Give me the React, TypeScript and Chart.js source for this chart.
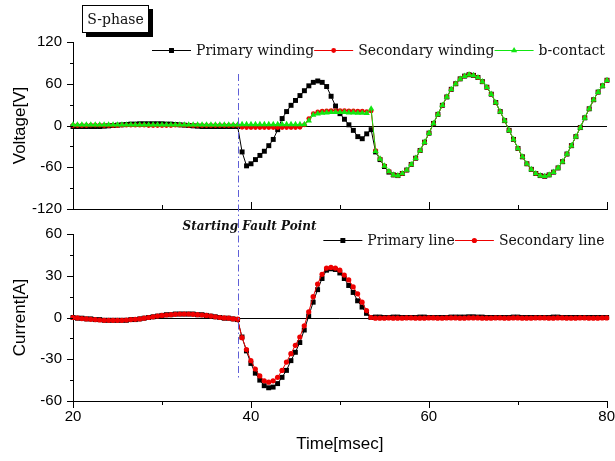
import React, { useEffect, useRef } from 'react';
import { Chart, registerables } from 'chart.js';

Chart.register(...registerables);

// ---------------- data ----------------
const timeMs = [
  20, 20.5, 21, 21.5, 22, 22.5, 23, 23.5, 24, 24.5, 25, 25.5, 26, 26.5, 27, 27.5, 28, 28.5, 29, 29.5,
  30, 30.5, 31, 31.5, 32, 32.5, 33, 33.5, 34, 34.5, 35, 35.5, 36, 36.5, 37, 37.5, 38, 38.5, 39, 39.5,
  40, 40.5, 41, 41.5, 42, 42.5, 43, 43.5, 44, 44.5, 45, 45.5, 46, 46.5, 47, 47.5, 48, 48.5, 49, 49.5,
  50, 50.5, 51, 51.5, 52, 52.5, 53, 53.5, 54, 54.5, 55, 55.5, 56, 56.5, 57, 57.5, 58, 58.5, 59, 59.5,
  60, 60.5, 61, 61.5, 62, 62.5, 63, 63.5, 64, 64.5, 65, 65.5, 66, 66.5, 67, 67.5, 68, 68.5, 69, 69.5,
  70, 70.5, 71, 71.5, 72, 72.5, 73, 73.5, 74, 74.5, 75, 75.5, 76, 76.5, 77, 77.5, 78, 78.5, 79, 79.5,
  80,
];

const voltagePrimary = [
  -1.5, -1.5, -1.5, -1.5, -1.5, -1.5, -1.5, -1, -0.5, 0,
  0.5, 1, 1.5, 2, 2, 2.5, 2.5, 2.5, 2.5, 2.5,
  2.5, 2, 2, 1.5, 1, 0.5, 0, -0.5, -1, -1.5,
  -1.5, -1.5, -1.5, -1.5, -1.5, -1.5, -1.5, -1.5,
  -38, -58, -55, -49, -43, -37, -29, -20, -6, 10,
  20, 29, 36, 43, 50, 57, 62, 64, 62, 56,
  42, 28, 17, 9, 1, -7, -16, -19, -12, -6,
  -38, -49, -59, -67, -71, -72, -69, -64, -56, -47,
  -36, -24, -11, 3, 16, 29, 41, 52, 60, 67,
  71, 73, 72, 69, 63, 55, 45, 33, 20, 7,
  -7, -20, -33, -45, -55, -63, -69, -72, -73, -71,
  -67, -61, -52, -41, -29, -16, -3, 11, 24, 37,
  48, 57, 65,
];

const voltageSecondary = [
  0, 0, 0, 0, 0.5, 0.5, 0.5, 0, 0, 0,
  0, 0.5, 0.5, 0.5, 0.5, 0.5, 0.5, 0, 0, 0,
  0, 0, 0, 0.5, 0.5, 0.5, 0, 0, 0, 0,
  0, 0, 0, 0, 0, 0, 0, 0,
  -2.5, -3, -3, -3, -3, -3, -3, -3, -3, -3, -3, -3, -3, -2.5,
  1, 10, 17, 19.5, 20.5, 21, 21.5, 21.5, 21.5, 21.5, 21, 21, 20.5, 20.5, 20, 21,
  -36, -48, -58, -66, -71, -72, -69, -64, -56, -47,
  -36, -24, -11, 3, 16, 29, 41, 52, 60, 67,
  71, 73, 72, 69, 63, 55, 45, 33, 20, 7,
  -7, -20, -33, -45, -55, -63, -69, -72, -73, -71,
  -67, -61, -52, -41, -29, -16, -3, 11, 24, 37,
  48, 57, 65,
];

const voltageBContact = [
  1, 1, 1, 1, 1, 1, 1, 1, 1, 1,
  1, 1, 1, 1, 1, 1, 1, 1, 1, 1,
  1, 1, 1, 1, 1, 1, 1, 1, 1, 1,
  1, 1, 1, 1, 1, 1, 1, 1,
  1.5, 1.5, 1.5, 1.5, 1.5, 1.5, 1.5, 1.5, 1.5, 1.5, 1.5, 1.5, 1.5, 1.5,
  1.5, 7, 15, 17, 18, 18.5, 19, 19, 19, 19, 18.5, 18.5, 18, 18, 17.5, 24,
  -37, -48, -58, -66, -71, -72, -69, -64, -56, -47,
  -36, -24, -11, 3, 16, 29, 41, 52, 60, 67,
  71, 73, 72, 69, 63, 55, 45, 33, 20, 7,
  -7, -20, -33, -45, -55, -63, -69, -72, -73, -71,
  -67, -61, -52, -41, -29, -16, -3, 11, 24, 37,
  48, 57, 65,
];

const currentPrimary = [
  0, -0.5, -0.5, -1, -1, -1.5, -1.5, -2, -2, -2,
  -2, -2, -2, -1.5, -1.5, -1, -0.5, 0, 0.5, 1,
  1.5, 2, 2, 2.5, 2.5, 2.5, 2.5, 2.5, 2, 2,
  1.5, 1, 0.5, 0, -0.5, -0.5, -1, -1.5,
  -14, -24, -33, -40, -45, -49, -50.5, -50, -47.5, -43,
  -38, -31, -25, -18, -9, 1, 11, 20, 28, 34,
  35, 34.5, 32, 28, 23, 18, 12, 7.5, 3, 0,
  0.3, 0.3, 0, 0, 0.3, 0.3, 0, 0, 0, 0,
  0.3, 0.3, 0, 0, 0, 0, 0, 0.3, 0.3, 0.3,
  0.3, 0.5, 0.5, 0.3, 0.3, 0, 0, 0, 0, 0,
  0, 0.3, 0.3, 0, 0, 0, 0, 0, 0, 0,
  0.3, 0.3, 0, 0, 0, 0, 0, 0, 0, 0,
  0, 0, 0,
];

const currentSecondary = [
  0, -0.3, -0.8, -1, -1.3, -1.5, -1.8, -2, -2, -2,
  -2, -2, -1.8, -1.5, -1.3, -1, -0.5, 0, 0.5, 1,
  1.5, 1.8, 2, 2.3, 2.5, 2.5, 2.5, 2.3, 2, 1.8,
  1.5, 1, 0.5, 0, -0.3, -0.5, -1, -1.2,
  -14.5, -23, -31, -37, -42, -45.5, -46.5, -45.5, -43, -38,
  -32, -26, -20, -14, -6, 4, 15, 24, 31, 35.5,
  36, 35.5, 34, 30.5, 27, 22, 17, 11, 5, 0,
  -0.5, -0.5, -0.5, -0.3, -0.5, -0.5, -0.5, -0.3, -0.3, -0.5,
  -0.5, -0.5, -0.3, -0.3, -0.5, -0.5, -0.3, -0.3, -0.3, -0.5,
  -0.5, -0.3, -0.3, -0.3, -0.5, -0.5, -0.5, -0.3, -0.3, -0.5,
  -0.5, -0.3, -0.3, -0.5, -0.5, -0.5, -0.3, -0.3, -0.3, -0.5,
  -0.5, -0.3, -0.3, -0.5, -0.5, -0.5, -0.3, -0.3, -0.5, -0.5,
  -0.5, -0.3, -0.3,
];

const faultTime = 38.5;
const phaseTitle = 'S-phase';
const faultLabel = 'Starting Fault Point';

// ---------------- styling ----------------
const SANS = '"Liberation Sans", Arial, sans-serif';
const SERIF = '"DejaVu Serif", serif';
const BLACK = '#000000';
const RED = '#ee0000';
const GREEN = '#11e611';
const FAULT = 'rgb(95,95,215)';

const pts = (arr: number[]) => timeMs.map((t, i) => ({ x: t, y: arr[i] }));

function drawMarker(ctx: CanvasRenderingContext2D, style: string, x: number, y: number, r: number, color: string) {
  ctx.fillStyle = color;
  ctx.beginPath();
  if (style === 'rect') {
    const s = r * Math.SQRT1_2;
    ctx.rect(x - s, y - s, 2 * s, 2 * s);
  } else if (style === 'triangle') {
    let rad = 0;
    ctx.moveTo(x + Math.sin(rad) * r, y - Math.cos(rad) * r);
    rad += (2 * Math.PI) / 3;
    ctx.lineTo(x + Math.sin(rad) * r, y - Math.cos(rad) * r);
    rad += (2 * Math.PI) / 3;
    ctx.lineTo(x + Math.sin(rad) * r, y - Math.cos(rad) * r);
    ctx.closePath();
  } else {
    ctx.arc(x, y, r, 0, Math.PI * 2);
  }
  ctx.fill();
}

function hLine(ctx: CanvasRenderingContext2D, x1: number, y: number, x2: number) {
  const py = Math.round(y) + 0.5;
  ctx.beginPath();
  ctx.moveTo(x1, py);
  ctx.lineTo(x2, py);
  ctx.stroke();
}
function vLine(ctx: CanvasRenderingContext2D, x: number, y1: number, y2: number) {
  const px = Math.round(x) + 0.5;
  ctx.beginPath();
  ctx.moveTo(px, y1);
  ctx.lineTo(px, y2);
  ctx.stroke();
}

type DecorCfg = {
  inwardX: boolean;
  legendDy: number;
  faultFrom: (c: any) => number;
  faultTo: (c: any) => number;
  extra?: (c: any) => void;
};

function makeDecor(cfg: DecorCfg) {
  return {
    id: 'decor',
    beforeDatasetsDraw(chart: any) {
      const { ctx, chartArea: a, scales } = chart;
      ctx.save();
      ctx.strokeStyle = BLACK;
      ctx.lineWidth = 1;
      hLine(ctx, a.left, scales.y.getPixelForValue(0), a.right);
      ctx.restore();
    },
    afterDatasetsDraw(chart: any) {
      const { ctx, scales } = chart;
      ctx.save();
      ctx.strokeStyle = FAULT;
      ctx.lineWidth = 1;
      ctx.setLineDash([7, 3, 1.5, 3]);
      vLine(ctx, scales.x.getPixelForValue(faultTime), cfg.faultFrom(chart), cfg.faultTo(chart));
      ctx.restore();
    },
    afterDraw(chart: any) {
      const { ctx, chartArea: a, scales } = chart;
      const { x, y } = scales;
      ctx.save();
      ctx.strokeStyle = BLACK;
      ctx.lineWidth = 1;
      // y ticks (outward, major + minor)
      const yv = y.ticks.map((t: any) => t.value);
      for (let k = 0; k < yv.length; k++) {
        hLine(ctx, a.left - 6, y.getPixelForValue(yv[k]), a.left);
        if (k < yv.length - 1) hLine(ctx, a.left - 3, y.getPixelForValue((yv[k] + yv[k + 1]) / 2), a.left);
      }
      // x ticks
      const xv = x.ticks.map((t: any) => t.value);
      const dir = cfg.inwardX ? -1 : 1;
      for (let k = 0; k < xv.length; k++) {
        vLine(ctx, x.getPixelForValue(xv[k]), a.bottom, a.bottom + dir * 7);
        if (k < xv.length - 1) vLine(ctx, x.getPixelForValue((xv[k] + xv[k + 1]) / 2), a.bottom, a.bottom + dir * 4);
      }
      // legend (inside plot, right aligned)
      ctx.font = `14px ${SERIF}`;
      ctx.textBaseline = 'middle';
      ctx.textAlign = 'left';
      const lineLen = 39;
      const gap = 5;
      const ds = chart.data.datasets;
      const widths = ds.map((d: any) => lineLen + gap + ctx.measureText(d.label).width);
      const total = widths.reduce((s: number, w: number) => s + w, 0);
      let lx = a.right - 2 - total;
      const cy = a.top + cfg.legendDy;
      ds.forEach((d: any, i: number) => {
        ctx.strokeStyle = d.borderColor;
        ctx.lineWidth = 1;
        hLine(ctx, lx, cy, lx + lineLen);
        drawMarker(ctx, d.pointStyle, lx + lineLen / 2, Math.round(cy) + 0.5, d.pointRadius, d.borderColor);
        ctx.fillStyle = '#111';
        ctx.fillText(d.label, lx + lineLen + gap, cy + 1);
        lx += widths[i];
      });
      if (cfg.extra) cfg.extra(chart);
      ctx.restore();
    },
  };
}

const baseYAxis = (min: number, max: number, step: number, title: string) => ({
  min,
  max,
  ticks: { stepSize: step, padding: 11, color: '#000', font: { family: SANS, size: 15 } },
  grid: { display: false, drawTicks: false },
  border: { display: true, color: '#000', width: 1 },
  title: { display: true, text: title, color: '#000', font: { family: SANS, size: 17 }, padding: { top: 10, bottom: 0 } },
  afterFit: (s: any) => {
    s.width = 73;
  },
});

// canvas geometry (the two panels overlap a little; both are transparent)
const TOP_H = 229;
const BOT_TOP = 214;
const BOT_H = 461 - BOT_TOP;
const SPLIT = 221; // where the fault marker passes from one canvas to the other

export default function App() {
  const topRef = useRef<HTMLCanvasElement>(null);
  const botRef = useRef<HTMLCanvasElement>(null);

  useEffect(() => {
    const common = {
      animation: false as const,
      responsive: false,
      devicePixelRatio: 1,
      events: [] as any[],
      plugins: { legend: { display: false }, tooltip: { enabled: false } },
    };

    const top = new Chart(topRef.current as HTMLCanvasElement, {
      type: 'line',
      data: {
        datasets: [
          { label: 'Primary winding', data: pts(voltagePrimary), borderColor: BLACK, backgroundColor: BLACK, pointBackgroundColor: BLACK, borderWidth: 1, pointStyle: 'rect', pointRadius: 3.5, pointBorderWidth: 0, tension: 0, order: 3, clip: false },
          { label: 'Secondary winding', data: pts(voltageSecondary), borderColor: RED, backgroundColor: RED, pointBackgroundColor: RED, borderWidth: 1, pointStyle: 'circle', pointRadius: 2.4, pointBorderWidth: 0, tension: 0, order: 2, clip: false },
          { label: 'b-contact', data: pts(voltageBContact), borderColor: GREEN, backgroundColor: GREEN, pointBackgroundColor: GREEN, borderWidth: 1, pointStyle: 'triangle', pointRadius: 3.6, pointBorderWidth: 0, tension: 0, order: 1, clip: false },
        ] as any,
      },
      options: {
        ...common,
        layout: { padding: { top: 42, bottom: TOP_H - 209, left: 0, right: 8 } },
        scales: {
          x: {
            type: 'linear',
            min: 20,
            max: 80,
            ticks: { display: false, stepSize: 20 },
            grid: { display: false, drawTicks: false },
            border: { display: true, color: '#000', width: 1 },
            afterFit: (s: any) => {
              s.height = 0;
            },
          },
          y: baseYAxis(-120, 120, 60, 'Voltage[V]'),
        },
      } as any,
      plugins: [
        makeDecor({
          inwardX: true,
          legendDy: 8,
          faultFrom: (c) => c.chartArea.top + 32,
          faultTo: () => SPLIT,
          extra: (c) => {
            const ctx = c.ctx as CanvasRenderingContext2D;
            const bx = c.chartArea.left + 9;
            const by = 5;
            const bw = 67;
            const bh = 28;
            ctx.fillStyle = '#000';
            ctx.fillRect(bx + 4, by + 4, bw, bh);
            ctx.fillStyle = '#fff';
            ctx.fillRect(bx, by, bw, bh);
            ctx.strokeStyle = '#000';
            ctx.lineWidth = 1;
            ctx.strokeRect(bx + 0.5, by + 0.5, bw - 1, bh - 1);
            ctx.fillStyle = '#111';
            ctx.font = `14px ${SERIF}`;
            ctx.textAlign = 'center';
            ctx.textBaseline = 'middle';
            ctx.fillText(phaseTitle, bx + bw / 2, by + bh / 2 + 1);
          },
        }),
      ],
    });

    const bot = new Chart(botRef.current as HTMLCanvasElement, {
      type: 'line',
      data: {
        datasets: [
          { label: 'Primary line', data: pts(currentPrimary), borderColor: BLACK, backgroundColor: BLACK, pointBackgroundColor: BLACK, borderWidth: 1, pointStyle: 'rect', pointRadius: 3.5, pointBorderWidth: 0, tension: 0, order: 2, clip: false },
          { label: 'Secondary line', data: pts(currentSecondary), borderColor: RED, backgroundColor: RED, pointBackgroundColor: RED, borderWidth: 1, pointStyle: 'circle', pointRadius: 2.6, pointBorderWidth: 0, tension: 0, order: 1, clip: false },
        ] as any,
      },
      options: {
        ...common,
        layout: { padding: { top: 234 - BOT_TOP, bottom: 0, left: 0, right: 8 } },
        scales: {
          x: {
            type: 'linear',
            min: 20,
            max: 80,
            ticks: { stepSize: 20, padding: 0, color: '#000', font: { family: SANS, size: 15, lineHeight: 2.1 } },
            grid: { display: false, drawTicks: false },
            border: { display: true, color: '#000', width: 1 },
            title: { display: true, text: 'Time[msec]', color: '#000', font: { family: SANS, size: 17 }, padding: { top: 0, bottom: 6 } },
            afterFit: (s: any) => {
              s.height = BOT_H - (401 - BOT_TOP);
            },
          },
          y: baseYAxis(-60, 60, 30, 'Current[A]'),
        },
      } as any,
      plugins: [
        makeDecor({
          inwardX: false,
          legendDy: 6,
          faultFrom: () => SPLIT - BOT_TOP,
          faultTo: (c) => c.scales.y.getPixelForValue(-45),
          extra: (c) => {
            const ctx = c.ctx as CanvasRenderingContext2D;
            const fx = c.scales.x.getPixelForValue(faultTime);
            ctx.fillStyle = '#111';
            ctx.font = `italic bold 12px ${SERIF}`;
            ctx.textAlign = 'center';
            ctx.textBaseline = 'middle';
            ctx.fillText(faultLabel, fx + 12, c.chartArea.top - 7);
          },
        }),
      ],
    });

    return () => {
      top.destroy();
      bot.destroy();
    };
  }, []);

  return (
    <div style={{ position: 'absolute', left: 0, top: 0, width: 615, height: 461, background: '#fff' }}>
      <canvas ref={topRef} width={615} height={TOP_H} style={{ position: 'absolute', left: 0, top: 0 }} />
      <canvas ref={botRef} width={615} height={BOT_H} style={{ position: 'absolute', left: 0, top: BOT_TOP }} />
    </div>
  );
}
